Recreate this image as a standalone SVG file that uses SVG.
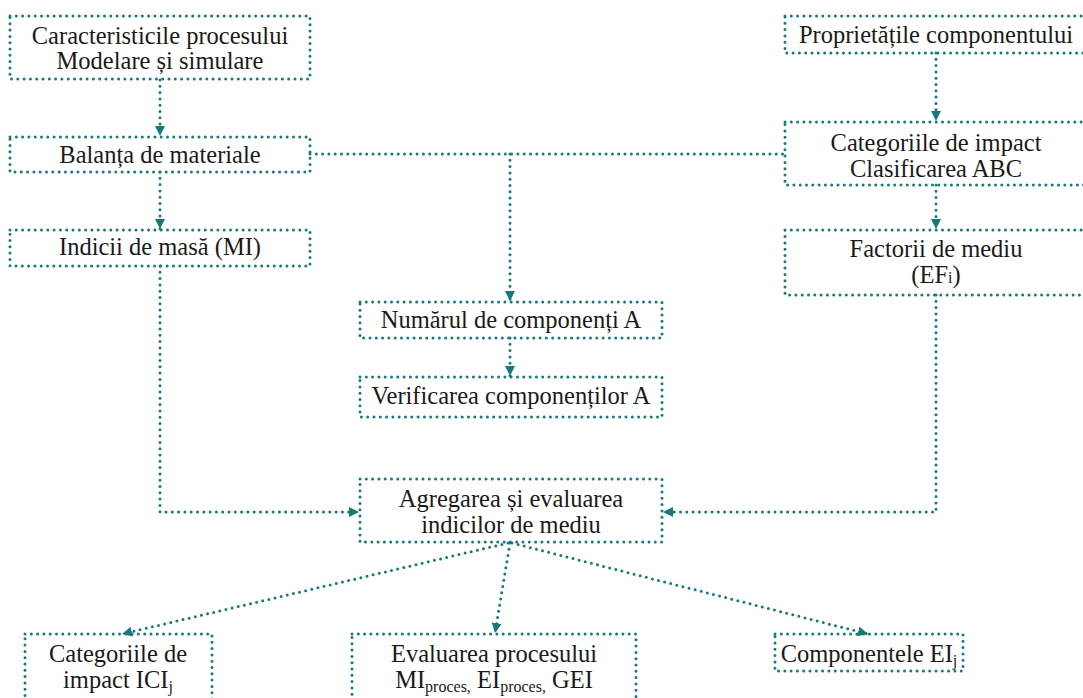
<svg xmlns="http://www.w3.org/2000/svg" width="1083" height="698" viewBox="0 0 1083 698">
<style>
.box{fill:none;stroke:#17797a;stroke-width:3;stroke-dasharray:0 6.3;stroke-linecap:round}
.ln{fill:none;stroke:#17797a;stroke-width:3;stroke-dasharray:0 6.3;stroke-linecap:round}
text{font-family:"Liberation Serif","DejaVu Serif",serif;font-size:24.5px;fill:#1a1a1a;text-anchor:middle}
.sub{font-size:16px}
</style>
<defs>
<marker id="ah" viewBox="0 0 10 10" refX="10" refY="5" markerWidth="10" markerHeight="10" markerUnits="userSpaceOnUse" orient="auto">
<path d="M0,0 L10,5 L0,10 z" fill="#17797a"/>
</marker>
</defs>
<rect width="1083" height="698" fill="#fff"/>
<g id="connectors">
<path class="ln" d="M160,80 V136" marker-end="url(#ah)"/>
<path class="ln" d="M160,172 V229" marker-end="url(#ah)"/>
<path class="ln" d="M310,154 H785"/>
<path class="ln" d="M510,154 V301" marker-end="url(#ah)"/>
<path class="ln" d="M510,338 V376" marker-end="url(#ah)"/>
<path class="ln" d="M936,53 V121" marker-end="url(#ah)"/>
<path class="ln" d="M936,185 V229" marker-end="url(#ah)"/>
<path class="ln" d="M160,266 V512 H359" marker-end="url(#ah)"/>
<path class="ln" d="M936,295 V512 H663" marker-end="url(#ah)"/>
<path class="ln" d="M508,543 L122,634" marker-end="url(#ah)"/>
<path class="ln" d="M510,543 L495,633" marker-end="url(#ah)"/>
<path class="ln" d="M512,543 L868,634" marker-end="url(#ah)"/>
</g>
<g id="n1"><rect class="box" x="10" y="16" width="300" height="63"/><text x="160" y="44">Caracteristicile procesului</text><text x="160" y="69">Modelare și simulare</text></g>
<g id="n2"><rect class="box" x="10" y="137" width="300" height="35"/><text x="160" y="163">Balanța de materiale</text></g>
<g id="n3"><rect class="box" x="10" y="230" width="300" height="36"/><text x="160" y="255">Indicii de masă (MI)</text></g>
<g id="n4"><rect class="box" x="785" y="16" width="310" height="37"/><text x="936" y="43">Proprietățile componentului</text></g>
<g id="n5"><rect class="box" x="785" y="122" width="310" height="63"/><text x="936" y="151">Categoriile de impact</text><text x="936" y="177">Clasificarea ABC</text></g>
<g id="n6"><rect class="box" x="785" y="230" width="310" height="65"/><text x="936" y="257">Factorii de mediu</text><text x="936" y="283">(EF<tspan class="sub">i</tspan>)</text></g>
<g id="n7"><rect class="box" x="360" y="302" width="302" height="36"/><text x="511" y="328">Numărul de componenți A</text></g>
<g id="n8"><rect class="box" x="360" y="377" width="302" height="40"/><text x="511" y="404">Verificarea componenților A</text></g>
<g id="n9"><rect class="box" x="360" y="479" width="302" height="63"/><text x="511" y="507">Agregarea și evaluarea</text><text x="511" y="533">indicilor de mediu</text></g>
<g id="n10"><rect class="box" x="25" y="634" width="187" height="80"/><text x="118" y="662">Categoriile de</text><text x="118" y="688">impact ICI<tspan class="sub" dy="4">j</tspan></text></g>
<g id="n11"><rect class="box" x="352" y="634" width="284" height="80"/><text x="494" y="662">Evaluarea procesului</text><text x="494" y="688">MI<tspan class="sub" dy="4">proces,</tspan><tspan dy="-4"> EI</tspan><tspan class="sub" dy="4">proces,</tspan><tspan dy="-4"> GEI</tspan></text></g>
<g id="n12"><rect class="box" x="775" y="634" width="188" height="37"/><text x="869" y="662">Componentele EI<tspan class="sub" dy="4">j</tspan></text></g>
</svg>
